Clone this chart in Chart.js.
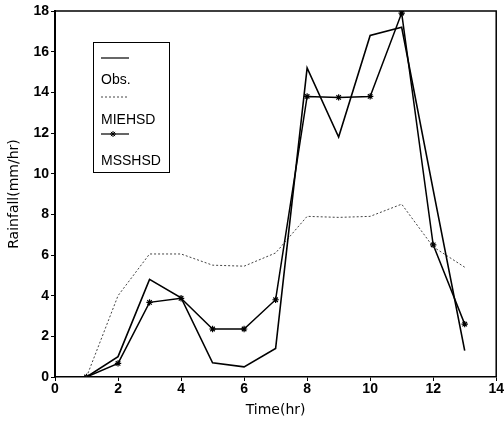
<!DOCTYPE html>
<html>
<head>
<meta charset="utf-8">
<script src="https://cdn.jsdelivr.net/npm/chart.js@4.4.1/dist/chart.umd.min.js"></script>
<style>
  html, body { margin: 0; padding: 0; background: #fff; }
  #wrap { width: 504px; height: 423px; }
</style>
</head>
<body>
<div id="wrap"><canvas id="chart" width="504" height="423"></canvas></div>
<script>
// rainfall data
const hours = [1, 2, 3, 4, 5, 6, 7, 8, 9, 10, 11, 12, 13];
const obs = [0, 1.0, 4.8, 3.9, 0.7, 0.5, 1.4, 15.2, 11.8, 16.8, 17.2, 9.2, 1.3];
const miehsd = [0, 4.0, 6.05, 6.05, 5.5, 5.45, 6.1, 7.9, 7.85, 7.9, 8.5, 6.4, 5.4];
const msshsd = [0, 0.67, 3.67, 3.87, 2.36, 2.36, 3.8, 13.8, 13.75, 13.8, 17.9, 6.5, 2.6];

const xTicks = [0, 2, 4, 6, 8, 10, 12, 14];
const yTicks = [0, 2, 4, 6, 8, 10, 12, 14, 16, 18];

const toPoints = vals => hours.map((h, i) => ({ x: h, y: vals[i] }));

const tickFont = { family: 'Liberation Sans', size: 14, weight: 'bold' };
const titleFont = { family: 'DejaVu Sans', size: 14 };

// top and right edge of the plot box
const frame = {
    id: 'frame',
    afterDraw(chart) {
        const { ctx, chartArea: a } = chart;
        ctx.save();
        ctx.strokeStyle = '#000';
        ctx.lineWidth = 1.5;
        ctx.beginPath();
        ctx.moveTo(a.left, a.top);
        ctx.lineTo(a.right, a.top);
        ctx.lineTo(a.right, a.bottom);
        ctx.stroke();
        ctx.restore();
    }
};

// legend in the figure's style: sample line above each label
const lineY = [58, 97, 134];
const textY = [80, 120, 161];
const boxLegend = {
    id: 'boxLegend',
    afterDraw(chart) {
        const { ctx } = chart;
        const left = 93, top = 42, w = 76, h = 130;
        ctx.save();
        ctx.strokeStyle = '#000';
        ctx.lineWidth = 1;
        ctx.strokeRect(left + 0.5, top + 0.5, w, h);
        ctx.font = '14px "Liberation Sans"';
        ctx.fillStyle = '#000';
        ctx.textBaseline = 'middle';
        chart.data.datasets.forEach((ds, i) => {
            const ly = lineY[i];
            ctx.save();
            ctx.strokeStyle = ds.borderColor;
            ctx.lineWidth = ds.borderWidth > 1 ? 1.2 : 1;
            ctx.setLineDash(ds.borderDash || []);
            ctx.beginPath();
            ctx.moveTo(left + 8, ly);
            ctx.lineTo(left + 36, ly);
            ctx.stroke();
            ctx.restore();
            if (ds.pointStyle === 'star') {
                const cx = left + 20, r = 3;
                ctx.beginPath();
                ctx.moveTo(cx - r, ly); ctx.lineTo(cx + r, ly);
                ctx.moveTo(cx, ly - r); ctx.lineTo(cx, ly + r);
                ctx.moveTo(cx - r * 0.7, ly - r * 0.7); ctx.lineTo(cx + r * 0.7, ly + r * 0.7);
                ctx.moveTo(cx - r * 0.7, ly + r * 0.7); ctx.lineTo(cx + r * 0.7, ly - r * 0.7);
                ctx.stroke();
            }
            ctx.fillText(ds.label, left + 8, textY[i]);
        });
        ctx.restore();
    }
};

new Chart(document.getElementById('chart'), {
    type: 'line',
    data: {
        datasets: [
            {
                label: 'Obs.',
                data: toPoints(obs),
                borderColor: '#000',
                borderWidth: 1.6,
                pointRadius: 0,
                tension: 0
            },
            {
                label: 'MIEHSD',
                data: toPoints(miehsd),
                borderColor: '#444',
                borderWidth: 1,
                borderDash: [2, 2],
                pointRadius: 0,
                tension: 0
            },
            {
                label: 'MSSHSD',
                data: toPoints(msshsd),
                borderColor: '#000',
                borderWidth: 1.5,
                pointStyle: 'star',
                pointRadius: 3.2,
                pointBorderWidth: 1.2,
                pointBorderColor: '#000',
                tension: 0
            }
        ]
    },
    options: {
        responsive: false,
        animation: false,
        layout: { padding: { top: 11, right: 7, left: 0, bottom: 0 } },
        plugins: {
            legend: { display: false },
            tooltip: { enabled: false }
        },
        scales: {
            x: {
                type: 'linear',
                min: 0,
                max: 14,
                afterBuildTicks: s => { s.ticks = xTicks.map(v => ({ value: v })); },
                afterFit: s => { s.height = 46; },
                grid: { drawOnChartArea: false, drawTicks: true, tickLength: 4, color: '#000' },
                border: { display: true, color: '#000', width: 1.5 },
                ticks: { color: '#000', font: tickFont, padding: 0, maxRotation: 0 },
                title: { display: true, text: 'Time(hr)', color: '#000', font: titleFont, padding: { top: 0, bottom: 4 } }
            },
            y: {
                min: 0,
                max: 18,
                afterBuildTicks: s => { s.ticks = yTicks.map(v => ({ value: v })); },
                afterFit: s => { s.width = 55; },
                grid: { drawOnChartArea: false, drawTicks: true, tickLength: 4, color: '#000' },
                border: { display: true, color: '#000', width: 2 },
                ticks: { color: '#000', font: tickFont, padding: 2 },
                title: { display: true, text: 'Rainfall(mm/hr)', color: '#000', font: titleFont, padding: { top: 6, bottom: 0 } }
            }
        }
    },
    plugins: [frame, boxLegend]
});
</script>
</body>
</html>
